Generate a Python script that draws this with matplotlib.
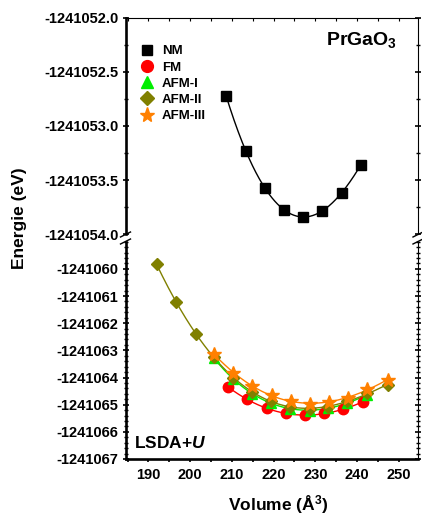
import numpy as np
import matplotlib.pyplot as plt
from matplotlib.ticker import MultipleLocator, FixedLocator, FormatStrFormatter
from matplotlib.lines import Line2D

plt.rcParams['font.family'] = ['Liberation Sans', 'DejaVu Sans']
plt.rcParams['font.weight'] = 'bold'
plt.rcParams['axes.unicode_minus'] = False
plt.rcParams['mathtext.fontset'] = 'custom'
plt.rcParams['mathtext.rm'] = 'Liberation Sans:bold'
plt.rcParams['mathtext.bf'] = 'Liberation Sans:bold'
plt.rcParams['mathtext.it'] = 'Liberation Sans:italic'

E0 = -1241000.0

# NM (non-magnetic), upper panel
vol_nm = [208.6, 213.3, 218.0, 222.5, 227.1, 231.7, 236.3, 240.9]
e_nm = [-52.72, -53.23, -53.575, -53.775, -53.84, -53.785, -53.615, -53.36]

# magnetic configurations, lower panel
vol_fm = [209.0, 213.6, 218.3, 222.9, 227.6, 232.1, 236.7, 241.3]
e_fm = [-64.34, -64.80, -65.13, -65.32, -65.39, -65.32, -65.17, -64.90]

vol_afm1 = [205.8, 210.3, 214.9, 219.4, 224.0, 228.6, 233.1, 237.7, 242.4]
e_afm1 = [-63.30, -64.06, -64.60, -64.93, -65.15, -65.22, -65.13, -64.93, -64.63]

vol_afm2 = [192.0, 196.5, 201.4, 205.8, 210.3, 214.9, 219.4, 224.0, 228.6,
            233.1, 237.7, 242.4, 247.3]
e_afm2 = [-59.82, -61.23, -62.41, -63.23, -64.00, -64.53, -64.86, -65.10,
          -65.16, -65.07, -64.86, -64.58, -64.27]

vol_afm3 = [205.8, 210.3, 214.9, 219.5, 224.1, 228.6, 233.2, 237.8, 242.4, 247.3]
e_afm3 = [-63.14, -63.84, -64.31, -64.64, -64.86, -64.97, -64.91, -64.74,
          -64.42, -64.09]

fig = plt.figure(figsize=(4.22, 5.21), dpi=100)
W, H = 422, 521
left, right = 125.5 / W, 418 / W
ax_top = fig.add_axes([left, 1 - 234.3 / H, right - left, (234.3 - 17.6) / H])
ax_bot = fig.add_axes([left, 1 - 459 / H, right - left, (459 - 241.7) / H])


def fit_curve(ax, x, y, color, deg=3):
    x = np.asarray(x)
    p = np.polyfit(x - 225, np.asarray(y), deg)
    xx = np.linspace(x.min(), x.max(), 200)
    ax.plot(xx, np.polyval(p, xx - 225) + E0, color=color, lw=1.0, zorder=2)


def series(ax, x, y, color, marker, ms, label, deg=3, z=3):
    fit_curve(ax, x, y, color, deg)
    ax.plot(x, np.asarray(y) + E0, ls='none', marker=marker, ms=ms,
            color=color, mec=color, zorder=z, label=label)


series(ax_top, vol_nm, e_nm, 'black', 's', 6.5, 'NM', deg=4)
series(ax_bot, vol_fm, e_fm, '#ff0000', 'o', 7.5, 'FM', deg=4)
series(ax_bot, vol_afm1, e_afm1, '#00ee00', '^', 7, 'AFM-I', deg=4, z=4)
series(ax_bot, vol_afm2, e_afm2, '#808000', 'D', 6, 'AFM-II', deg=4, z=5)
series(ax_bot, vol_afm3, e_afm3, '#ff8000', '*', 10, 'AFM-III', deg=4, z=6)

for ax in (ax_top, ax_bot):
    ax.set_xlim(184.5, 254.6)
    ax.xaxis.set_major_locator(MultipleLocator(10))
    ax.xaxis.set_minor_locator(MultipleLocator(5))
    ax.spines['left'].set_linewidth(1.9)
    ax.spines['right'].set_linewidth(0.8)
    ax.spines['top'].set_linewidth(0.8)
    ax.spines['bottom'].set_linewidth(1.9)
    ax.tick_params(axis='y', which='both', left=True, right=True,
                   direction='inout', labelsize=10.5, pad=3, width=1.2)
    ax.tick_params(axis='y', which='major', length=4)
    ax.tick_params(axis='y', which='minor', length=3, width=1)
    ax.tick_params(axis='y', which='both', labelright=False)

ax_top.set_ylim(E0 - 54.0, E0 - 52.0)
ax_top.yaxis.set_major_locator(MultipleLocator(0.5))
ax_top.yaxis.set_minor_locator(MultipleLocator(0.25))
ax_top.yaxis.set_major_formatter(FormatStrFormatter('%.1f'))
ax_top.spines['bottom'].set_visible(False)
ax_top.tick_params(axis='x', which='both', bottom=False, labelbottom=False,
                   top=True, direction='in', length=2.5, width=0.8)

ax_bot.set_ylim(E0 - 67.0, E0 - 59.0)
ax_bot.yaxis.set_major_locator(FixedLocator(E0 - np.arange(60, 68)))
ax_bot.yaxis.set_minor_locator(MultipleLocator(0.2))
ax_bot.yaxis.set_major_formatter(FormatStrFormatter('%d'))
ax_bot.spines['top'].set_visible(False)
ax_bot.tick_params(axis='x', which='both', top=False, bottom=True,
                   direction='out', length=2.5, width=1.2, labelsize=10.5, pad=4)

# axis break marks
kw = dict(color='black', lw=1.0, clip_on=False, transform=fig.transFigure, zorder=10)
for xc in (left, right):
    for yc in (1 - 234.5 / H, 1 - 241.5 / H):
        fig.add_artist(Line2D([xc - 5 / W, xc + 5 / W], [yc - 2.5 / H, yc + 2.5 / H], **kw))

# legend in the upper panel
handles = [Line2D([], [], ls='none', marker='s', ms=7.5, color='black'),
           Line2D([], [], ls='none', marker='o', ms=8.5, color='#ff0000'),
           Line2D([], [], ls='none', marker='^', ms=8.5, color='#00ee00'),
           Line2D([], [], ls='none', marker='D', ms=7, color='#808000'),
           Line2D([], [], ls='none', marker='*', ms=11, color='#ff8000')]
labels = ['NM', 'FM', 'AFM-I', 'AFM-II', 'AFM-III']
ax_top.legend(handles, labels, loc='upper left', bbox_to_anchor=(0.02, 0.915),
              frameon=False, prop={'weight': 'bold', 'size': 9.5},
              handlelength=1.0, handletextpad=0.6, labelspacing=0.3,
              borderpad=0.2)

ax_top.text(0.93, 0.875, r'PrGaO$_\mathbf{3}$', transform=ax_top.transAxes,
            ha='right', va='baseline', fontsize=14, fontweight='bold')
ax_bot.text(0.03, 0.05, r'LSDA+$\mathit{U}$', transform=ax_bot.transAxes,
            ha='left', va='baseline', fontsize=12.5, fontweight='bold')

fig.text(20 / W, 1 - 218 / H, 'Energie (eV)', rotation=90, ha='center',
         va='center', fontsize=12.5, fontweight='bold')
fig.text(278 / W, 1 - 505 / H, r'Volume (Å$^\mathbf{3}$)', ha='center',
         va='center', fontsize=12.5, fontweight='bold')

fig.savefig('out.png', dpi=100)
